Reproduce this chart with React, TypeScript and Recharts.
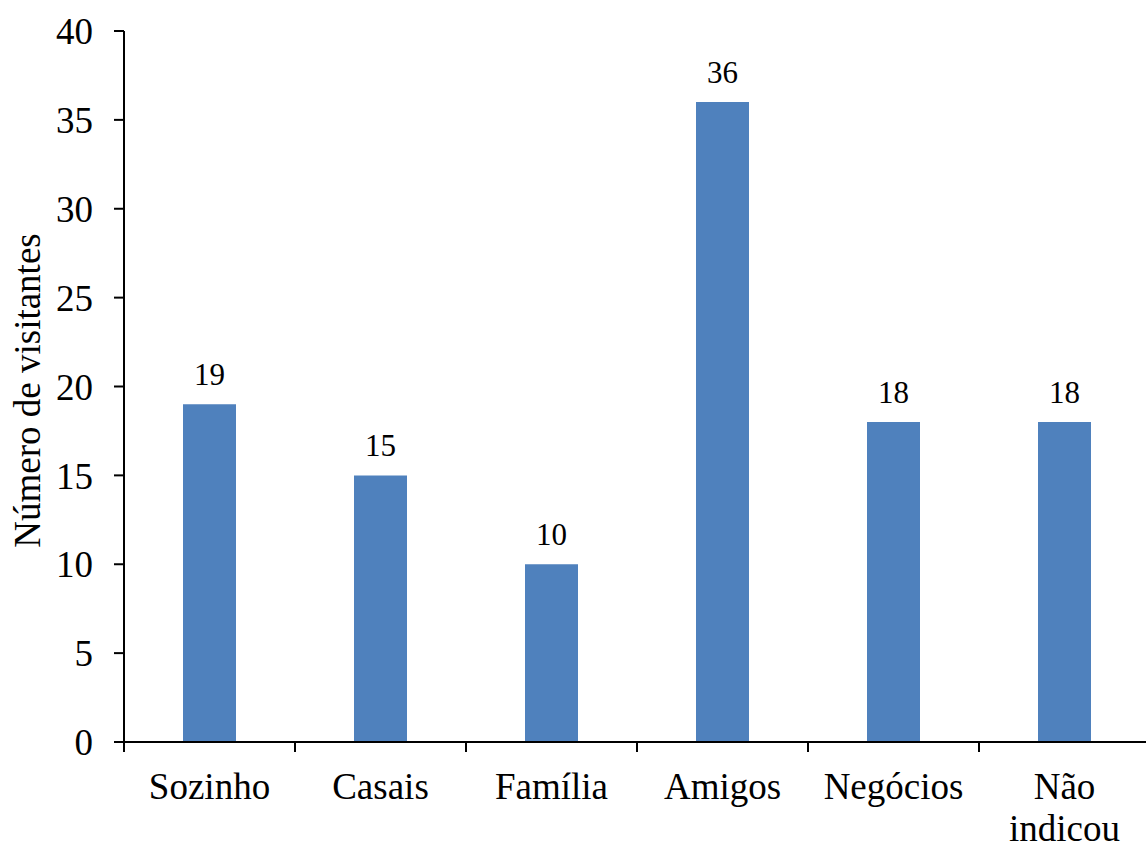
import { BarChart, Bar, XAxis, YAxis, LabelList } from "recharts";

const categories = ["Sozinho", "Casais", "Família", "Amigos", "Negócios", "Não indicou"];
const visitors = [19, 15, 10, 36, 18, 18];
const yTicks = [0, 5, 10, 15, 20, 25, 30, 35, 40];

const data = categories.map((name, i) => ({ name, visitors: visitors[i] }));

const FONT = '"Liberation Serif", "Times New Roman", serif';
const CHART_W = 1160;
const CHART_H = 845;
const MARGIN = { top: 31, right: 10, bottom: 13, left: 0 };
const Y_AXIS_W = 124;
const X_AXIS_H = 90;
const TICK_LEN = 10;
const X_GAP = 21;
const LINE_H = 42;
const BAND = (CHART_W - MARGIN.left - MARGIN.right - Y_AXIS_W) / categories.length;

// category label (one word per line), plus a tick mark on the left edge of each band
const CategoryTick = (props: any) => {
  const { x, y, payload } = props;
  const axisY = y - TICK_LEN - X_GAP;
  const edge = x - BAND / 2;
  const words = String(payload.value).split(" ");
  return (
    <g>
      <line x1={edge} x2={edge} y1={axisY} y2={axisY + TICK_LEN} stroke="#000" strokeWidth={2} />
      <text x={x} y={y} textAnchor="middle" fontSize={37} fontFamily={FONT} fill="#000">
        {words.map((w, i) => (
          <tspan key={i} x={x} dy={i === 0 ? "0.71em" : LINE_H}>
            {w}
          </tspan>
        ))}
      </text>
    </g>
  );
};

const YTitle = (props: any) => {
  const { viewBox } = props;
  const cy = viewBox.y + viewBox.height / 2 + 4;
  return (
    <text
      x={27}
      y={cy}
      transform={`rotate(-90, 27, ${cy})`}
      textAnchor="middle"
      dominantBaseline="central"
      fontSize={37}
      fontFamily={FONT}
      fill="#000"
    >
      Número de visitantes
    </text>
  );
};

export default function App() {
  return (
    <div
      style={{
        position: "fixed",
        left: 0,
        top: 0,
        width: 1146,
        height: 845,
        overflow: "hidden",
        background: "#fff",
      }}
    >
      <BarChart width={CHART_W} height={CHART_H} data={data} margin={MARGIN}>
        <XAxis
          dataKey="name"
          height={X_AXIS_H}
          interval={0}
          axisLine={{ stroke: "#000", strokeWidth: 2 }}
          tickLine={false}
          tickSize={TICK_LEN}
          tickMargin={X_GAP}
          tick={<CategoryTick />}
        />
        <YAxis
          width={Y_AXIS_W}
          domain={[0, 40]}
          ticks={yTicks}
          interval={0}
          axisLine={{ stroke: "#000", strokeWidth: 2 }}
          tickLine={{ stroke: "#000", strokeWidth: 2 }}
          tickSize={TICK_LEN}
          tickMargin={21}
          tick={{ fontSize: 37, fontFamily: FONT, fill: "#000" }}
          label={<YTitle />}
        />
        <Bar dataKey="visitors" fill="#4F81BD" barSize={53} isAnimationActive={false}>
          <LabelList
            dataKey="visitors"
            position="top"
            offset={19}
            fontSize={31}
            fontFamily={FONT}
            fill="#000"
          />
        </Bar>
      </BarChart>
    </div>
  );
}
